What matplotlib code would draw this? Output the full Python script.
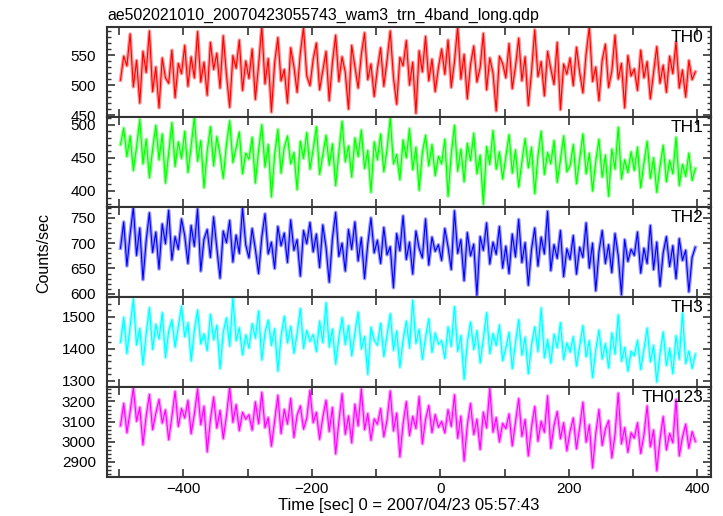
import numpy as np
import matplotlib
matplotlib.use('Agg')
import matplotlib.pyplot as plt
from matplotlib.ticker import MultipleLocator

plt.rcParams['font.family'] = ['Liberation Sans', 'DejaVu Sans']

# time bins (5 s sampling of the light curve)
time = np.arange(-498, 400, 5)

th0 = [508, 548, 532, 585, 497, 541, 470, 556, 521, 590, 489, 530, 462, 545, 512, 503, 558, 479, 536, 519,
       566, 498, 547, 512, 589, 505, 538, 483, 571, 526, 553, 495, 582, 517, 463, 549, 528, 575, 491, 540,
       511, 560, 476, 533, 598, 502, 544, 455, 537, 579, 507, 526, 470, 562, 531, 488, 553, 596, 515, 499,
       543, 570, 492, 524, 556, 474, 538, 583, 506, 547, 521, 460, 566, 530, 495, 551, 587, 509, 535, 481,
       527, 562, 498, 541, 590, 513, 468, 546, 532, 574, 500, 538, 453, 557, 522, 581, 507, 543, 489, 529,
       560, 518, 575, 496, 539, 598, 510, 551, 477, 534, 565, 505, 529, 586, 492, 545, 520, 457, 548, 536,
       512, 569, 494, 531, 578, 507, 547, 466, 522, 592, 514, 539, 482, 556, 527, 501, 571, 459, 535, 518,
       545, 499, 563, 521, 487, 552, 597, 506, 530, 474, 541, 568, 496, 523, 583, 510, 536, 462, 549, 515,
       527, 491, 558, 512, 539, 477, 520, 564, 503, 533, 488, 548, 519, 572, 495, 525, 480, 541, 509, 522]

th1 = [470, 495, 452, 483, 431, 466, 508, 441, 478, 420, 463, 499, 447, 486, 412, 458, 503, 437, 474, 449,
       490, 428, 468, 511, 445, 476, 405, 460, 497, 438, 482, 455, 419, 471, 506, 443, 465, 489, 426, 457,
       448, 481, 412, 462, 500, 436, 470, 391, 455, 493, 427, 466, 483, 441, 458, 402, 475, 449, 488, 433,
       463, 497, 425, 454, 484, 439, 471, 408, 459, 505, 444, 468, 421, 480, 452, 492, 434, 461, 398, 474,
       447, 486, 429, 463, 510, 441, 455, 417, 477, 450, 494, 432, 466, 401, 458, 484, 438, 470, 423, 452,
       441, 478, 392, 456, 499, 430, 463, 414, 472, 446, 487, 426, 454, 380, 467, 440, 491, 433, 459, 418,
       451, 485, 427, 462, 406, 444, 479, 435, 466, 396, 453, 490, 425, 458, 441, 476, 413, 447, 483, 429,
       438, 470, 411, 449, 486, 426, 457, 400, 445, 478, 421, 454, 392, 463, 433, 496, 418, 447, 428, 459,
       431, 466, 405, 442, 475, 419, 450, 398, 437, 469, 414, 446, 426, 481, 408, 440, 422, 457, 416, 434]

th2 = [690, 742, 655, 718, 771, 676, 730, 628, 705, 760, 682, 722, 649, 738, 699, 765, 667, 713, 688, 748,
       715, 660, 735, 694, 768, 645, 708, 727, 672, 752, 690, 631, 724, 701, 745, 663, 716, 680, 770, 697,
       671, 729, 688, 640, 712, 758, 679, 702, 650, 733, 695, 720, 662, 746, 686, 707, 635, 725, 699, 741,
       683, 718, 652, 736, 692, 623, 709, 761, 674, 700, 645, 727, 688, 742, 665, 711, 630, 698, 750, 681,
       706, 660, 731, 677, 693, 612, 719, 685, 754, 668, 702, 639, 724, 690, 671, 748, 657, 712, 684, 697,
       666, 729, 693, 648, 764, 680, 707, 626, 721, 675, 698, 597, 713, 686, 740, 659, 702, 678, 733, 651,
       694, 640, 718, 673, 747, 662, 701, 617, 688, 730, 655, 712, 679, 763, 646, 697, 670, 725, 634, 689,
       668, 715, 639, 692, 672, 740, 651, 700, 606, 683, 725, 660, 697, 642, 719, 675, 598, 707, 664, 688,
       676, 722, 641, 690, 660, 735, 648, 702, 615, 681, 713, 654, 695, 630, 709, 666, 686, 604, 672, 692]

th3 = [1420, 1498, 1385, 1470, 1555, 1412, 1463, 1350, 1447, 1528, 1398, 1476, 1430, 1512, 1372, 1455, 1490, 1405, 1468, 1533,
       1437, 1481, 1362, 1458, 1521, 1415, 1446, 1394, 1507, 1428, 1473, 1338, 1452, 1496, 1408, 1560, 1425, 1465, 1381, 1443,
       1402, 1478, 1433, 1517, 1365, 1451, 1489, 1410, 1462, 1330, 1439, 1501, 1418, 1470, 1386, 1448, 1525, 1401, 1457, 1423,
       1444, 1391, 1486, 1419, 1543, 1405, 1461, 1352, 1434, 1497, 1413, 1472, 1378, 1450, 1514, 1399, 1438, 1320, 1467, 1426,
       1411, 1479, 1376, 1443, 1509, 1395, 1455, 1342, 1428, 1486, 1402, 1551, 1417, 1460, 1367, 1436, 1493, 1389, 1449, 1414,
       1425, 1370, 1468, 1407, 1531, 1392, 1441, 1305, 1420, 1483, 1398, 1456, 1356, 1432, 1512, 1385, 1447, 1410, 1474, 1363,
       1402, 1451, 1338, 1419, 1490, 1380, 1436, 1322, 1413, 1468, 1391, 1527, 1372, 1428, 1355, 1445, 1403, 1481, 1366, 1418,
       1389, 1437, 1346, 1408, 1472, 1375, 1425, 1310, 1396, 1458, 1368, 1416, 1340, 1449, 1383, 1505, 1361, 1404, 1330, 1392,
       1378, 1426, 1335, 1397, 1464, 1359, 1410, 1296, 1385, 1452, 1348, 1401, 1322, 1440, 1367, 1511, 1354, 1392, 1339, 1383]

th0123 = [3080, 3190, 3045, 3150, 3268, 3102, 3171, 2985, 3128, 3235, 3060, 3142, 3210, 3093, 3158, 3010, 3124, 3250, 3076, 3165,
          3118, 3205, 3040, 3137, 3262, 3085, 3176, 2950, 3109, 3222, 3068, 3155, 3015, 3130, 3271, 3097, 3184, 3055, 3146, 3112,
          3134, 3058, 3198, 3090, 3245, 3070, 3120, 2978, 3105, 3230, 3041, 3161, 3088, 3215, 3022, 3132, 3178, 3063, 3116, 3255,
          3095, 3146, 3012, 3122, 3206, 3051, 3170, 2940, 3100, 3238, 3037, 3128, 2995, 3186, 3079, 3262, 3060, 3140, 3008, 3113,
          3087, 3165, 3025, 3108, 3252, 3054, 3142, 2925, 3090, 3199, 3031, 3126, 3066, 3224, 2990, 3111, 3180, 3046, 3135, 3072,
          3101, 3044, 3159, 3076, 3233, 3018, 3127, 2905, 3083, 3190, 3036, 3112, 2962, 3147, 3069, 3264, 3048, 3120, 2999, 3091,
          3065, 3138, 2980, 3096, 3214, 3027, 3110, 2930, 3074, 3175, 3003, 3102, 3047, 3228, 2968, 3081, 3150, 3015, 3094, 2955,
          3052, 3118, 2965, 3072, 3196, 2998, 3084, 2870, 3040, 3160, 2982, 3063, 3105, 2920, 3036, 3241, 2990, 3070, 2948, 3045,
          3018, 3094, 2942, 3033, 3178, 2975, 3058, 2856, 3012, 3125, 2960, 3041, 2995, 3210, 2930, 3023, 3087, 2968, 3050, 3002]

bands = ['TH0', 'TH1', 'TH2', 'TH3', 'TH0123']
series = [th0, th1, th2, th3, th0123]
colors = ['#ff0000', '#00ff00', '#0000ff', '#00ffff', '#ff00ff']
ylims = [(447, 597), (376, 512), (594, 772), (1281, 1562), (2826, 3273)]
ymajor = [50, 50, 50, 100, 100]
yminor = [10, 10, 10, 20, 20]

fig = plt.figure(figsize=(7.23, 5.16), dpi=100)
gs = fig.add_gridspec(5, 1, left=0.148, right=0.983, top=0.948, bottom=0.076, hspace=0)

for i, (name, y, c) in enumerate(zip(bands, series, colors)):
    ax = fig.add_subplot(gs[i])
    # light halo mimics the error bars, thin line on top
    ax.plot(time, y, color=c, lw=2.6, alpha=0.4)
    ax.plot(time, y, color=c, lw=0.8)
    ax.set_xlim(-519, 421)
    ax.set_ylim(*ylims[i])
    ax.xaxis.set_major_locator(MultipleLocator(200))
    ax.xaxis.set_minor_locator(MultipleLocator(100))
    ax.yaxis.set_major_locator(MultipleLocator(ymajor[i]))
    ax.yaxis.set_minor_locator(MultipleLocator(yminor[i]))
    ax.tick_params(which='both', direction='in', top=True, right=True, labelsize=11, color='#333333')
    ax.tick_params(which='major', length=6, width=1.2)
    ax.tick_params(axis='x', which='minor', length=6, width=1.2)
    ax.tick_params(axis='y', which='minor', length=3, width=1)
    ax.tick_params(axis='y', pad=8)
    for s in ax.spines.values():
        s.set_linewidth(1.5)
        s.set_color('#333333')
    ax.text(0.988, 0.96, name, transform=ax.transAxes, ha='right', va='top', fontsize=12.5)
    if i < 4:
        ax.tick_params(labelbottom=False)
    else:
        ax.set_xlabel('Time [sec] 0 = 2007/04/23 05:57:43', fontsize=12, labelpad=2)
    if i == 0:
        ax.set_title('ae502021010_20070423055743_wam3_trn_4band_long.qdp', loc='left', fontsize=11.4, pad=5)

fig.text(0.061, 0.51, 'Counts/sec', rotation=90, ha='center', va='center', fontsize=11.5)

fig.savefig('out.png', dpi=100)
